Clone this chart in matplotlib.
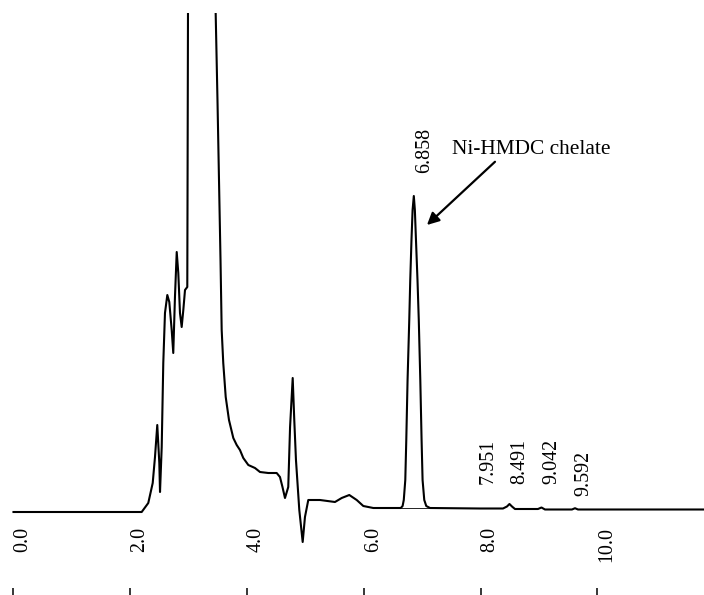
import matplotlib
matplotlib.use("Agg")
import matplotlib.pyplot as plt

# Chromatogram trace (time in min, detector signal arb. units)
time_min = [0.000, 2.166, 2.195, 2.308, 2.384, 2.423, 2.462, 2.497, 2.509, 2.538,
            2.565, 2.594, 2.634, 2.668, 2.709, 2.736, 2.765, 2.795, 2.822, 2.851,
            2.880, 2.908, 2.937, 2.976, 2.980, 2.988, 3.031, 3.228, 3.440, 3.462,
            3.493, 3.519, 3.545, 3.565, 3.592, 3.634, 3.690, 3.764, 3.822, 3.878,
            3.935, 4.021, 4.135, 4.221, 4.363, 4.507, 4.563, 4.606, 4.649, 4.705,
            4.736, 4.781, 4.808, 4.837, 4.894, 4.952, 4.991, 5.048, 5.248, 5.505,
            5.620, 5.750, 5.877, 5.990, 6.161, 6.589, 6.632, 6.663, 6.683, 6.709,
            6.726, 6.748, 6.777, 6.794, 6.815, 6.834, 6.855, 6.873, 6.892, 6.918,
            6.940, 6.966, 6.988, 7.005, 7.034, 7.068, 7.132, 7.988, 8.382, 8.450,
            8.493, 8.536, 8.587, 8.981, 9.041, 9.101, 9.563, 9.615, 9.666, 11.824]
signal = [0, 0, 0, 9, 29, 55, 87, 49, 20, 65,
          149, 199, 217, 210, 182, 159, 215, 260, 239, 199,
          185, 202, 222, 225, 312, 499, 1200, 2500, 1200, 499,
          412, 332, 252, 182, 149, 115, 92, 74, 67, 62,
          54, 47, 44, 40, 39, 39, 35, 25, 14, 25,
          85, 134, 92, 52, 2, -30, -5, 12, 12, 10,
          14, 17, 12, 6, 4, 4, 4, 6, 12, 32,
          72, 132, 192, 232, 272, 302, 316, 302, 272, 232,
          192, 132, 72, 32, 12, 6, 4, 3.5, 3.5, 5.5,
          8, 5.5, 3, 3, 4.5, 2.5, 2.5, 3.8, 2.5, 2.5]

# integrated peak (drawn baseline under the chelate peak)
peak_start = (6.632, 4)
peak_end = (7.132, 4)

peak_rt = ["6.858", "7.951", "8.491", "9.042", "9.592"]
rt_label_y = [339, 28, 28, 28, 16]

ticks = [0.0, 2.0, 4.0, 6.0, 8.0, 10.0]

plt.rcParams["font.family"] = ["Liberation Serif", "DejaVu Serif"]

fig = plt.figure(figsize=(7.04, 5.95), dpi=100)
ax = fig.add_axes([0, 0, 1, 582 / 595])

ax.plot(time_min, signal, color="black", lw=1.5, solid_joinstyle="round")
ax.plot([peak_start[0], peak_end[0]], [peak_start[1], peak_end[1]],
        color="black", lw=0.6)

for lab, y in zip(peak_rt, rt_label_y):
    ax.text(float(lab) + 0.02, y, lab, rotation=90, ha="left", va="bottom",
            fontsize=14.4)

for t in ticks:
    ax.text(t, -15, f"{t:.1f}", rotation=90, ha="left", va="top", fontsize=14.4)

ax.annotate("Ni-HMDC chelate", xy=(7.08, 287), xytext=(7.509, 358),
            fontsize=15.4, ha="left", va="baseline",
            arrowprops=dict(arrowstyle="-|>", color="black", lw=1.6,
                            mutation_scale=18, shrinkA=0, shrinkB=0,
                            relpos=(0.29, 0.0)))

ax.set_xlim(-0.231, 11.824)
ax.set_ylim(-83, 499)
ax.set_xticks(ticks)
ax.set_xticklabels([])
ax.set_yticks([])
ax.tick_params(axis="x", direction="in", length=5, width=1.1, color="black")
for sp in ax.spines.values():
    sp.set_visible(False)

fig.savefig("out.png", dpi=100)
